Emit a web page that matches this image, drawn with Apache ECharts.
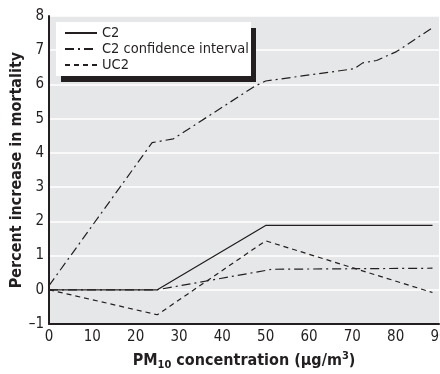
<!DOCTYPE html>
<html>
<head>
<meta charset="utf-8">
<script src="https://cdn.jsdelivr.net/npm/echarts@6/dist/echarts.min.js"></script>
<style>
  html, body { margin: 0; padding: 0; background: #fff; }
  #chart { width: 440px; height: 374px; }
</style>
</head>
<body>
<div id="chart"></div>
<script>
// values
const xTicks = [0, 10, 20, 30, 40, 50, 60, 70, 80, 90];
const yTicks = [-1, 0, 1, 2, 3, 4, 5, 6, 7, 8];

const c2X = [0, 25, 50, 88.5];
const c2Y = [0, 0, 1.88, 1.88];

const ciUpX = [0, 23.8, 28.7, 47.5, 50, 70.5, 72.4, 75.6, 80.2, 88.5];
const ciUpY = [0.12, 4.3, 4.41, 5.95, 6.1, 6.46, 6.63, 6.7, 6.96, 7.66];

const ciLowX = [0, 25, 51.5, 88.5];
const ciLowY = [0, 0, 0.6, 0.63];

const uc2X = [0, 25, 50, 88.5];
const uc2Y = [0, -0.73, 1.43, -0.08];

const ink = '#231f20';
const font = '"Liberation Sans Narrow", "DejaVu Sans Condensed", sans-serif';

function zip(xs, ys) {
  return xs.map((x, i) => [x, ys[i]]);
}

let chart = echarts.init(document.getElementById('chart'));

let option = {
  animation: false,
  grid: {
    left: 49, right: 1, top: 16, bottom: 50,
    outerBoundsMode: 'none',
    containLabel: false,
    show: true,
    backgroundColor: '#e6e7e8',
    borderWidth: 0
  },
  graphic: [
    { type: 'rect', shape: { x: 61, y: 28, width: 195, height: 54 }, style: { fill: ink }, z: 10 },
    { type: 'rect', shape: { x: 56, y: 22, width: 195, height: 54 }, style: { fill: '#fff' }, z: 11 }
  ],
  legend: {
    orient: 'vertical',
    left: 64, top: 25,
    itemWidth: 32, itemHeight: 12, itemGap: 0,
    padding: 0,
    z: 20,
    itemStyle: { color: 'transparent', borderColor: 'transparent', borderWidth: 0 },
    textStyle: { fontFamily: font, fontSize: 14.5, color: ink, lineHeight: 16 },
    data: ['C2', 'C2 confidence interval', 'UC2']
  },
  xAxis: {
    type: 'value',
    min: xTicks[0], max: xTicks[xTicks.length - 1], interval: 10,
    axisLine: { onZero: false, lineStyle: { color: ink, width: 2 } },
    axisTick: { show: false },
    splitLine: { show: false },
    axisLabel: { fontFamily: font, fontSize: 15, color: ink, margin: 6 },
    name: '{b|PM}{s|10}{b| concentration (\u03bcg/m}{p|3}{b|)}',
    nameLocation: 'middle',
    nameMoveOverlap: false,
    nameGap: 27,
    nameTextStyle: {
      rich: {
        b: { fontFamily: font, fontSize: 16, fontWeight: 'bold', color: ink, lineHeight: 20 },
        s: { fontFamily: font, fontSize: 11, fontWeight: 'bold', color: ink, lineHeight: 20, verticalAlign: 'bottom', padding: [7, 0, 0, 0] },
        p: { fontFamily: font, fontSize: 11, fontWeight: 'bold', color: ink, lineHeight: 20, verticalAlign: 'top', padding: [0, 0, 7, 0] }
      }
    }
  },
  yAxis: {
    type: 'value',
    min: yTicks[0], max: yTicks[yTicks.length - 1], interval: 1,
    axisLine: { show: true, lineStyle: { color: ink, width: 2 } },
    axisTick: { show: false },
    splitLine: { show: true, lineStyle: { color: '#fff', width: 1.5 } },
    axisLabel: {
      fontFamily: font, fontSize: 15, color: ink, margin: 5,
      formatter: v => (v < 0 ? '\u2013' + Math.abs(v) : '' + v)
    },
    name: 'Percent increase in mortality',
    nameLocation: 'middle',
    nameMoveOverlap: false,
    nameGap: 24,
    nameTextStyle: { fontFamily: font, fontSize: 16, fontWeight: 'bold', color: ink }
  },
  series: [
    {
      name: 'C2', type: 'line', symbol: 'none', data: zip(c2X, c2Y),
      lineStyle: { color: ink, width: 1.3, type: 'solid' }, itemStyle: { color: ink }
    },
    {
      name: 'C2 confidence interval', type: 'line', symbol: 'none', data: zip(ciUpX, ciUpY),
      lineStyle: { color: ink, width: 1.2, type: [9, 4, 2, 4] }, itemStyle: { color: ink }
    },
    {
      name: 'C2 confidence interval', type: 'line', symbol: 'none', data: zip(ciLowX, ciLowY),
      lineStyle: { color: ink, width: 1.2, type: [9, 4, 2, 4] }, itemStyle: { color: ink }
    },
    {
      name: 'UC2', type: 'line', symbol: 'none', data: zip(uc2X, uc2Y),
      lineStyle: { color: ink, width: 1.2, type: [5, 4] }, itemStyle: { color: ink }
    }
  ]
};

chart.setOption(option);
window.addEventListener('resize', () => chart.resize());
</script>
</body>
</html>
